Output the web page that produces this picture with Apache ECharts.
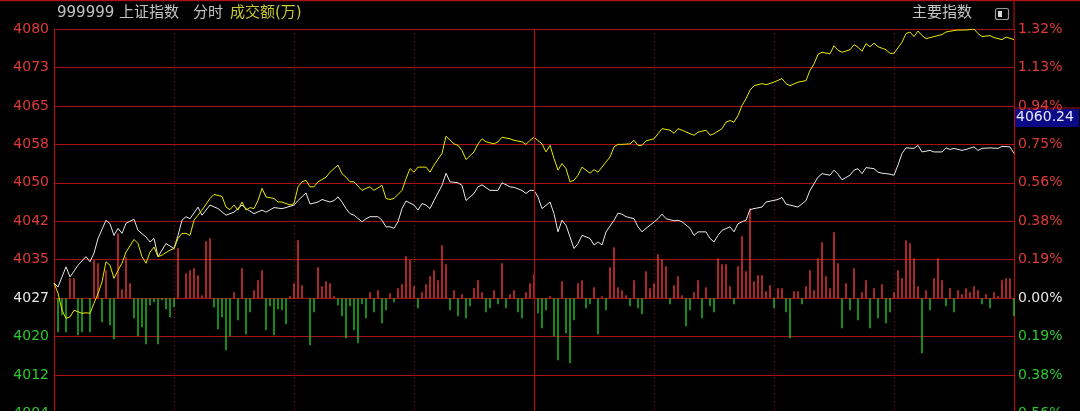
<!DOCTYPE html>
<html><head><meta charset="utf-8">
<script src="https://cdn.jsdelivr.net/npm/echarts@6/dist/echarts.min.js"></script>
<style>html,body{margin:0;padding:0;background:#000;overflow:hidden}#c{width:1080px;height:411px}</style>
</head><body><div id="c"></div>
<script>
// ---- data ----
const prevClose = 4027.3;
const step = 7.6;
const priceLabels = ['4004','4012','4020','4027','4035','4042','4050','4058','4065','4073','4080'];
const pctLabels = ['0.56%','0.38%','0.19%','0.00%','0.19%','0.38%','0.56%','0.75%','0.94%','1.13%','1.32%'];
const titleCode = '999999 上证指数';
const titleMode = '分时';
const titleVol = '成交额(万)';
const rightTitle = '主要指数';
const lastPriceTag = '4060.24';

// [minute, price] for the index (white) line
const indexLine = [[0,4030.3],[1,4029.5],[3,4033.5],[4,4031.5],[6,4033.8],[8,4035.5],[9,4034.5],[10,4036.2],[11,4039.1],[13,4042.7],[14,4042.0],[15,4039.7],[16,4041.1],[17,4040.1],[18,4042.1],[20,4042.9],[21,4040.7],[23,4039.4],[24,4038.4],[25,4039.1],[26,4035.5],[27,4036.8],[28,4038.1],[30,4037.1],[31,4039.7],[32,4042.7],[33,4043.4],[34,4043.0],[36,4045.3],[37,4043.7],[39,4045.7],[41,4045.0],[43,4043.7],[45,4044.3],[46,4045.0],[47,4045.7],[48,4045.0],[50,4044.0],[52,4044.7],[53,4044.3],[55,4045.2],[57,4045.0],[58,4045.2],[60,4045.7],[61,4046.6],[63,4048.1],[64,4045.9],[66,4046.3],[67,4046.8],[69,4046.3],[70,4046.6],[71,4047.3],[72,4046.3],[73,4045.0],[74,4044.0],[75,4043.7],[77,4042.4],[78,4043.0],[79,4043.4],[81,4043.4],[82,4042.7],[83,4041.4],[84,4041.4],[85,4041.1],[86,4042.4],[87,4045.0],[88,4046.5],[90,4045.7],[91,4044.7],[92,4046.0],[93,4045.7],[94,4045.0],[95,4046.6],[96,4048.1],[97,4049.6],[98,4052.0],[99,4050.3],[101,4050.1],[102,4049.6],[103,4046.6],[105,4048.0],[106,4049.3],[107,4049.7],[109,4048.6],[111,4048.6],[112,4050.1],[114,4049.3],[115,4049.2],[117,4048.6],[118,4048.0],[119,4048.6],[120,4048.6],[121,4047.3],[122,4045.0],[124,4046.3],[125,4044.0],[126,4040.4],[127,4042.7],[128,4041.7],[129,4039.4],[130,4037.1],[131,4038.1],[132,4039.7],[134,4039.1],[135,4037.8],[136,4038.4],[137,4037.8],[138,4040.4],[140,4042.7],[141,4044.1],[142,4043.9],[143,4043.4],[145,4043.0],[146,4041.4],[147,4040.4],[148,4041.1],[149,4041.7],[151,4043.0],[152,4043.9],[153,4043.0],[155,4042.6],[156,4042.7],[157,4042.4],[159,4041.1],[160,4039.7],[161,4040.4],[163,4040.4],[164,4039.1],[165,4038.4],[166,4039.7],[167,4040.7],[169,4041.4],[170,4040.4],[171,4042.0],[172,4042.4],[173,4042.7],[174,4044.8],[175,4045.0],[177,4045.3],[178,4046.3],[181,4046.8],[182,4047.2],[183,4045.9],[185,4045.5],[186,4045.3],[188,4046.6],[189,4048.6],[191,4051.2],[192,4051.9],[194,4051.6],[195,4052.6],[196,4051.8],[197,4050.7],[199,4051.6],[200,4052.6],[201,4052.9],[202,4051.9],[203,4053.1],[205,4052.9],[206,4052.2],[207,4052.0],[209,4051.8],[210,4051.6],[211,4053.6],[212,4055.9],[213,4057.0],[215,4056.9],[216,4057.5],[217,4056.2],[219,4056.5],[220,4056.2],[222,4056.2],[223,4057.0],[224,4056.7],[225,4056.9],[227,4056.5],[228,4056.7],[230,4057.2],[231,4056.5],[232,4056.9],[234,4057.0],[236,4056.9],[237,4057.3],[239,4057.2],[240,4055.9]];

// [minute, price] for the equal-weight (yellow) line
const equalLine = [[0,4030.3],[1,4028.3],[2,4024.9],[3,4023.3],[4,4023.6],[5,4024.9],[7,4024.3],[8,4024.4],[9,4024.3],[10,4026.3],[11,4028.2],[12,4030.5],[13,4034.5],[14,4033.8],[15,4031.2],[16,4032.8],[17,4034.2],[18,4036.4],[20,4038.9],[21,4038.1],[22,4035.5],[23,4034.2],[24,4036.4],[25,4037.4],[26,4035.5],[27,4035.8],[29,4036.8],[30,4037.1],[31,4039.1],[32,4040.1],[33,4040.1],[34,4039.7],[35,4042.7],[36,4043.7],[37,4044.7],[39,4047.0],[40,4047.8],[42,4047.4],[43,4045.3],[44,4044.8],[45,4045.7],[46,4044.7],[47,4046.3],[48,4044.7],[49,4045.2],[50,4045.0],[51,4046.6],[52,4049.0],[53,4047.3],[55,4047.0],[56,4046.3],[57,4046.3],[59,4045.7],[60,4046.0],[61,4049.3],[62,4050.3],[63,4050.6],[64,4049.3],[65,4049.3],[66,4050.3],[68,4051.2],[69,4052.2],[71,4053.6],[72,4051.9],[73,4051.2],[74,4050.3],[75,4050.3],[77,4048.6],[78,4049.0],[79,4049.3],[80,4048.6],[82,4049.6],[83,4047.0],[84,4046.8],[85,4047.0],[87,4048.6],[88,4050.9],[89,4052.9],[90,4052.2],[91,4053.2],[93,4053.2],[94,4052.2],[95,4053.6],[97,4055.9],[98,4059.3],[100,4057.8],[101,4057.5],[102,4056.5],[103,4054.7],[105,4056.2],[106,4057.8],[107,4058.8],[108,4058.2],[110,4057.8],[111,4058.2],[112,4059.1],[114,4058.8],[115,4058.5],[117,4058.2],[118,4057.7],[119,4058.5],[120,4059.1],[122,4057.8],[123,4056.2],[124,4057.5],[125,4054.9],[126,4052.6],[127,4053.9],[128,4052.9],[129,4050.3],[130,4050.6],[131,4051.6],[132,4053.2],[134,4052.0],[135,4052.7],[136,4052.2],[137,4053.2],[139,4055.2],[140,4057.2],[141,4057.7],[142,4057.7],[144,4057.8],[145,4058.5],[146,4057.5],[147,4057.5],[148,4058.4],[150,4058.8],[151,4059.8],[152,4060.8],[154,4060.5],[155,4059.9],[156,4060.8],[157,4060.5],[159,4059.8],[160,4059.5],[161,4060.1],[163,4060.5],[164,4059.5],[165,4059.8],[167,4060.8],[168,4062.1],[169,4062.4],[170,4062.1],[171,4063.4],[172,4065.4],[173,4066.7],[174,4068.4],[175,4069.3],[177,4069.7],[178,4069.5],[180,4070.0],[182,4070.7],[183,4069.7],[184,4069.3],[186,4070.0],[188,4070.3],[189,4072.3],[190,4073.6],[191,4075.5],[192,4075.9],[194,4075.6],[195,4077.2],[196,4076.3],[197,4075.9],[199,4076.4],[200,4077.4],[201,4076.9],[202,4076.1],[203,4077.6],[204,4077.0],[205,4077.7],[206,4077.0],[208,4076.4],[209,4075.7],[210,4075.7],[212,4077.9],[213,4079.6],[214,4079.9],[215,4079.0],[216,4080.1],[217,4079.2],[218,4078.6],[220,4079.0],[222,4079.4],[223,4079.9],[225,4080.2],[226,4080.3],[228,4080.3],[230,4080.5],[231,4079.6],[232,4079.0],[234,4079.2],[235,4078.8],[237,4078.4],[238,4078.9],[240,4078.4]];

// per-minute turnover bars (positive = red / up, negative = green / down), relative units
const amount = [
0,-34,-17,-34,20,20,-37,-34,0,-34,
38,35,-24,28,-27,-41,65,9,41,15,
-20,-38,-29,-46,-7,-4,-46,-2,-11,-19,
-9,50,0,25,28,30,23,3,57,60,
-9,-31,-19,-52,-38,6,-22,30,-36,-14,
8,18,28,-32,-8,-37,-11,-12,-26,2,
15,58,13,0,-47,-14,31,12,17,15,
2,-7,-18,-40,-8,-32,-45,-6,-20,6,
-14,8,-25,-12,5,-4,10,14,42,38,
12,-10,6,14,22,28,18,53,34,-12,
8,-18,4,-20,-8,10,18,6,-14,-10,
8,-6,35,-10,4,8,-14,-20,6,15,
24,-15,-30,-12,2,-38,-62,17,-35,-65,
-22,15,18,-10,-6,11,-36,2,-12,31,
51,11,8,3,-8,18,-10,-16,27,10,
15,44,39,32,-6,13,22,3,-28,-12,
6,18,-20,11,-8,-14,40,34,34,12,
-6,32,62,27,90,17,23,23,7,13,
-10,10,10,-14,-40,7,7,-6,12,28,
8,40,56,22,10,66,35,-30,15,-12,
30,-22,6,18,-30,10,-20,14,-25,-14,
6,28,20,58,55,40,12,-55,8,-12,
20,40,18,-8,10,-14,8,4,10,6,
12,8,-6,4,-10,6,2,18,20,20,
-18];

// ---- chart ----
const RED = '#e03a3a', GREEN = '#2ec82e', WHITE = '#e6e6e6';
const GRID = '#a81212';
const FONT = 'DejaVu Sans, Noto Sans CJK SC, sans-serif';
const yMin = prevClose - 3 * step, yMax = prevClose + 7 * step;
function levelIndex(v) { return Math.round((v - prevClose) / step) + 3; }
const richLbl = {
  r: { color: RED, fontSize: 14, fontFamily: FONT },
  w: { color: WHITE, fontSize: 14, fontFamily: FONT },
  g: { color: GREEN, fontSize: 14, fontFamily: FONT }
};
function tag(k, s) { return '{' + (k > 3 ? 'r' : (k === 3 ? 'w' : 'g')) + '|' + s + '}'; }

const chart = echarts.init(document.getElementById('c'), null, { renderer: 'canvas' });
chart.setOption({
  backgroundColor: '#000',
  animation: false,
  grid: { left: 54, right: 66, top: 29, bottom: -2.5, containLabel: false, outerBoundsMode: 'none' },
  xAxis: {
    type: 'value', min: 0, max: 240, interval: 30,
    axisLine: { show: false }, axisTick: { show: false }, axisLabel: { show: false },
    splitLine: { show: true, lineStyle: { color: GRID, type: [1, 3], width: 1 } }
  },
  yAxis: [
    {
      type: 'value', min: yMin, max: yMax, interval: step, position: 'left',
      axisLine: { show: true, lineStyle: { color: GRID, width: 1.2 } },
      axisTick: { show: false },
      splitLine: { show: true, lineStyle: { color: GRID, width: 1.2 } },
      axisLabel: { margin: 5, rich: richLbl, formatter: v => { const k = levelIndex(v); return tag(k, priceLabels[k]); } }
    },
    {
      type: 'value', min: yMin, max: yMax, interval: step, position: 'right',
      axisLine: { show: true, lineStyle: { color: GRID, width: 1.2 } },
      axisTick: { show: false }, splitLine: { show: false },
      axisLabel: { margin: 4, rich: richLbl, formatter: v => { const k = levelIndex(v); return tag(k, pctLabels[k]); } }
    },
    { type: 'value', min: -115.3, max: 269.2, show: false, splitLine: { show: false } }
  ],
  series: [
    {
      type: 'bar', yAxisIndex: 2, barWidth: 1.5, z: 1,
      data: amount.map((v, i) => [i, v]),
      itemStyle: { color: p => (p.value[1] >= 0 ? '#e23434' : '#22b822') },
      markLine: {
        silent: true, symbol: 'none', label: { show: false },
        lineStyle: { color: GRID, type: 'solid', width: 1.2 },
        data: [{ xAxis: 120 }]
      }
    },
    {
      type: 'line', yAxisIndex: 0, data: indexLine, showSymbol: false, z: 3,
      lineStyle: { color: '#e8e8e8', width: 1 }
    },
    {
      type: 'line', yAxisIndex: 0, data: equalLine, showSymbol: false, z: 4,
      lineStyle: { color: '#e8e800', width: 1 }
    }
  ],
  graphic: [
    { type: 'line', shape: { x1: 0, y1: 0.5, x2: 1080, y2: 0.5 }, style: { stroke: GRID, lineWidth: 1.5 } },
    { type: 'line', shape: { x1: 1014, y1: 0, x2: 1014, y2: 29 }, style: { stroke: GRID, lineWidth: 1.2 } },
    { type: 'text', left: 57, top: 6, style: { text: titleCode, fill: '#c4c4c4', font: '15px ' + FONT } },
    { type: 'text', left: 193, top: 6, style: { text: titleMode, fill: '#c4c4c4', font: '15px ' + FONT } },
    { type: 'text', left: 230, top: 6, style: { text: titleVol, fill: '#c8c832', font: '15px ' + FONT } },
    { type: 'text', left: 912, top: 6, style: { text: rightTitle, fill: '#c4c4c4', font: '15px ' + FONT } },
    { type: 'rect', shape: { x: 995.5, y: 8.5, width: 13, height: 11, r: 2 }, style: { fill: 'none', stroke: '#9a9a9a', lineWidth: 1.2 } },
    { type: 'rect', shape: { x: 998, y: 11, width: 4, height: 6 }, style: { fill: '#d8d8d8' } },
    { type: 'line', shape: { x1: 1014, y1: 108, x2: 1080, y2: 108 }, style: { stroke: GRID, lineWidth: 1 } },
    { type: 'rect', shape: { x: 1015, y: 109, width: 64, height: 18 }, style: { fill: '#0a0a86' } },
    { type: 'text', left: 1016, top: 110, style: { text: lastPriceTag, fill: '#e8e8ff', font: '14px ' + FONT } }
  ]
});
</script>
</body></html>
